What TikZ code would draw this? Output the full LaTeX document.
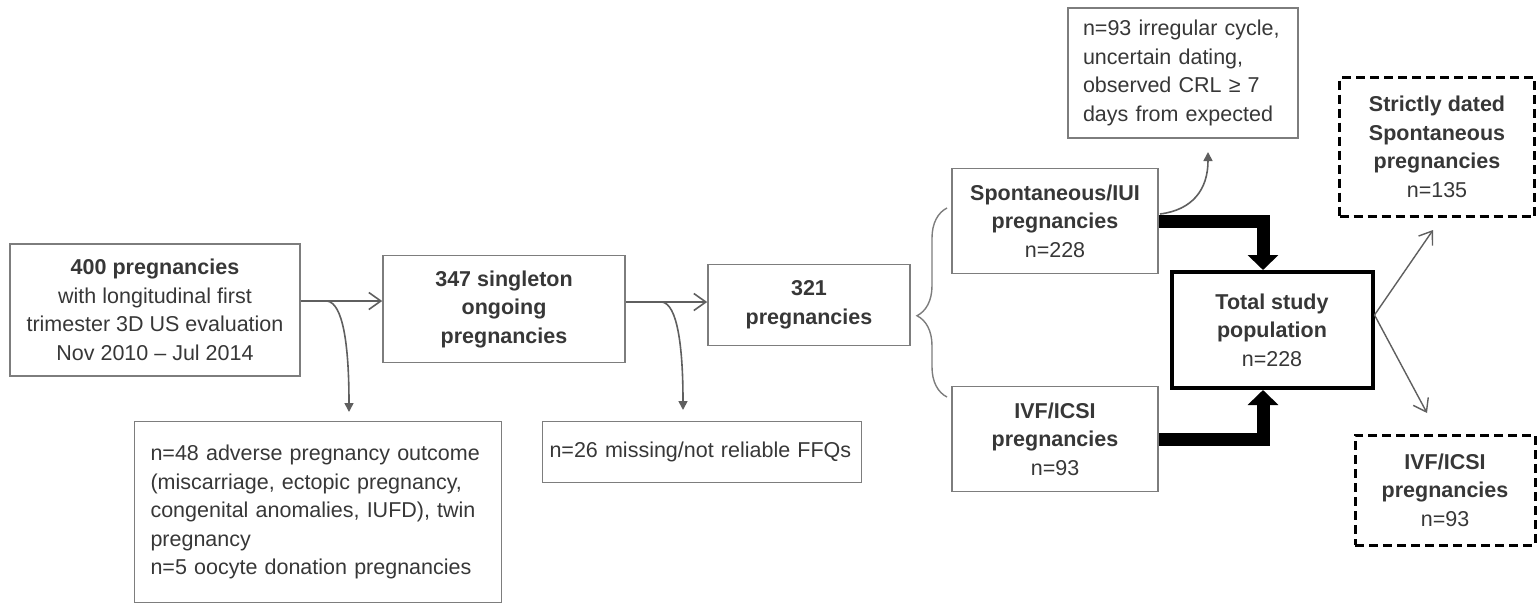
\documentclass[tikz,border=0pt]{standalone}
\usepackage{fontspec}
\setmainfont{Liberation Sans}
\usetikzlibrary{arrows.meta,decorations.pathreplacing}
\definecolor{boxgray}{RGB}{125,125,125}
\definecolor{txtgray}{RGB}{55,55,55}
\definecolor{linegray}{RGB}{95,95,95}
\tikzset{
    box/.style={draw=boxgray, line width=1.6pt, text=txtgray, align=center, inner sep=0pt,
        font=\fontsize{21.5}{28.5}\selectfont},
    leftbox/.style={box, align=left, text width=#1},
    studybox/.style={box, draw=black, line width=4pt},
    subbox/.style={box, draw=black, line width=3pt, dash pattern=on 9pt off 5pt},
    thinarrow/.style={draw=linegray, line width=1.6pt, -{Straight Barb[length=12pt,width=17pt]}},
    sidearrow/.style={draw=linegray, line width=1.6pt, -{Triangle[length=9pt,width=9pt]}},
    fatarrow/.style={draw=black, line width=13pt, line join=miter, -{Triangle[length=15pt,width=30pt]}},
}
\begin{document}
\begin{tikzpicture}[x=1pt, y=-1pt]
    \useasboundingbox (0,0) rectangle (1537,608);
    \node[box, minimum width=290pt, minimum height=132pt] (pop400) at (155,310)
        {\textbf{400 pregnancies}\\with longitudinal first\\trimester 3D US evaluation\\Nov 2010 -- Jul 2014};
    \node[box, minimum width=242pt, minimum height=107pt] (single347) at (504,309)
        {\textbf{347 singleton}\\\textbf{ongoing}\\\textbf{pregnancies}};
    \node[box, minimum width=202pt, minimum height=81pt] (preg321) at (809,305)
        {\textbf{321}\\\textbf{pregnancies}};
    \node[leftbox=335pt, minimum width=367pt, minimum height=181pt] (excl48) at (318,512)
        {n=48 adverse pregnancy outcome\\(miscarriage, ectopic pregnancy,\\congenital anomalies, IUFD), twin\\pregnancy\\n=5 oocyte donation pregnancies};
    \node[leftbox=305pt, minimum width=319pt, minimum height=61pt] (excl26) at (702,452)
        {n=26 missing/not reliable FFQs};
    \node[box, minimum width=206pt, minimum height=105pt] (spont) at (1055,221)
        {\textbf{Spontaneous/IUI}\\\textbf{pregnancies}\\n=228};
    \node[box, minimum width=206pt, minimum height=105pt] (ivf) at (1055,439)
        {\textbf{IVF/ICSI}\\\textbf{pregnancies}\\n=93};
    \node[leftbox=200pt, minimum width=230pt, minimum height=130pt] (crl) at (1183,73)
        {n=93 irregular cycle,\\uncertain dating,\\observed CRL ≥ 7\\days from expected};
    \node[studybox, minimum width=201pt, minimum height=116pt] (total) at (1272,330)
        {\textbf{Total study}\\\textbf{population}\\n=228};
    \node[subbox, minimum width=195pt, minimum height=139pt] (strict) at (1437,147)
        {\textbf{Strictly dated}\\\textbf{Spontaneous}\\\textbf{pregnancies}\\n=135};
    \node[subbox, minimum width=180pt, minimum height=110pt] (ivfsub) at (1445,490)
        {\textbf{IVF/ICSI}\\\textbf{pregnancies}\\n=93};
    \coordinate (split1) at (327,301);
    \coordinate (drop1) at (349,412);
    \coordinate (split2) at (662,302);
    \coordinate (drop2) at (683,410);
    \coordinate (spontout) at (1160,214);
    \coordinate (crlin) at (1208,152);
    \coordinate (braceLow) at (947,397);
    \coordinate (braceHigh) at (947,208);
    \draw[thinarrow] ([yshift=9pt]pop400.east) -- ([yshift=9pt]pop400.east -| single347.west);
    \draw[thinarrow] ([yshift=7pt]single347.east) -- ([yshift=7pt]single347.east -| preg321.west);
    \draw[sidearrow] (split1) .. controls (343,303) and (349,345) .. (drop1);
    \draw[sidearrow] (split2) .. controls (677,304) and (683,345) .. (drop2);
    \draw[draw=boxgray, line width=1.4pt, decorate, decoration={brace, amplitude=30pt, aspect=0.43}]
        (braceLow) -- (braceHigh);
    \draw[fatarrow] (spont.east) -| ([xshift=-9pt]total.north);
    \draw[fatarrow] (ivf.east) -| ([xshift=-9pt]total.south);
    \draw[sidearrow] (spontout) .. controls (1192,210) and (1208,190) .. (crlin);
    \draw[thinarrow, line width=1.4pt] ([yshift=15pt]total.east) -- (1433,230);
    \draw[thinarrow, line width=1.4pt] ([yshift=15pt]total.east) -- (1427,413);
\end{tikzpicture}
\end{document}
